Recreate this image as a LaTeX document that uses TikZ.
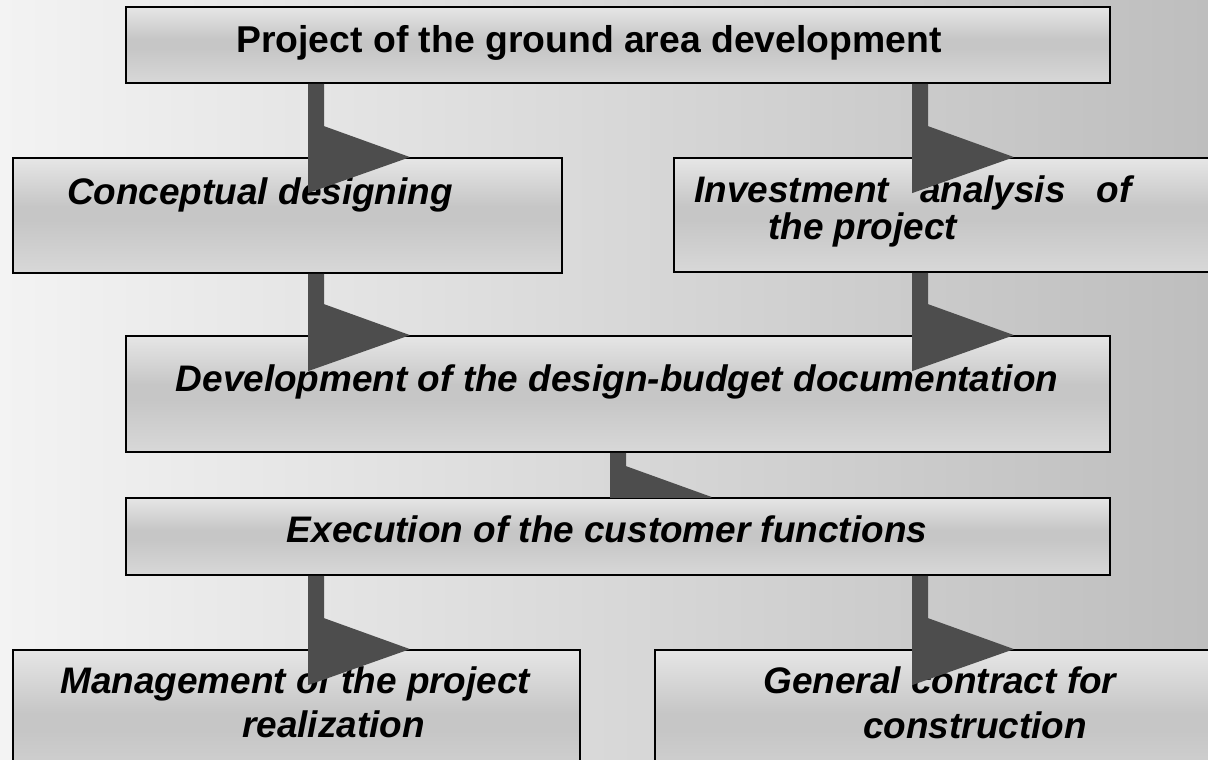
\documentclass[tikz,border=0pt]{standalone}
\usepackage{fontspec}
\setmainfont{Liberation Sans}
\usetikzlibrary{calc}

\definecolor{bgleft}{RGB}{243,243,243}
\definecolor{bgright}{RGB}{190,190,190}
\definecolor{boxtop}{RGB}{230,230,230}
\definecolor{boxmid}{RGB}{198,198,198}
\definecolor{boxbot}{RGB}{216,216,216}
\definecolor{flaggray}{RGB}{77,77,77}

\pgfdeclareverticalshading{boxshade}{100bp}{color(0bp)=(boxbot); color(25bp)=(boxbot); color(48bp)=(boxmid); color(54bp)=(boxmid); color(75bp)=(boxtop); color(100bp)=(boxtop)}

\def\px{0.75pt}

% bar with a flag head: #1 from, #2 to, #3 left x of the bar
\newcommand{\flagarrow}[3]{%
  \fill[flaghead] (#3,0 |- #1.south) -- ++(16,0)
    -- ($(#3,0 |- #2.north)+(16,-31)$) -- ($(#3,0 |- #2.north)+(102,0)$)
    -- ($(#3,0 |- #2.north)+(0,36)$) -- cycle;}

\tikzset{
  stage/.style={rectangle, draw=black, line width=1.3pt, shade, shading=boxshade, inner sep=0pt},
  stagetext/.style={font=\fontsize{27.7}{30}\selectfont\bfseries\itshape, inner sep=0pt},
  flaghead/.style={fill=flaggray}
}

\begin{document}
\begin{tikzpicture}[x=0.75pt, y=-0.75pt]
    \useasboundingbox (0,0) rectangle (1208,760);
    \shade[left color=bgleft, right color=bgright] (0,0) rectangle (1208,760);

    % boxes
    \node[stage, minimum width=984*\px, minimum height=76*\px] (ground) at (618,45) {};
    \node[stage, minimum width=549*\px, minimum height=115*\px] (concept) at (287.5,215.5) {};
    \node[stage, minimum width=566*\px, minimum height=114*\px] (invest) at (957,215) {};
    \node[stage, minimum width=984*\px, minimum height=116*\px] (budget) at (618,394) {};
    \node[stage, minimum width=984*\px, minimum height=77*\px] (customer) at (618,536.5) {};
    \node[stage, minimum width=567*\px, minimum height=150*\px] (manage) at (296.5,725) {};
    \node[stage, minimum width=585*\px, minimum height=150*\px] (contract) at (947.5,725) {};

    % texts
    \node[stagetext, font=\fontsize{28}{30}\selectfont\bfseries, anchor=base] (ground-t) at (589,52) {Project of the ground area development};
    \node[stagetext, anchor=base] (concept-t) at (260,204) {Conceptual designing};
    \node[stagetext, anchor=base west] (invest-t1) at (694,202) {Investment\ \ \ analysis\ \ \ of};
    \node[stagetext, anchor=base west] (invest-t2) at (768,239) {the project};
    \node[stagetext, anchor=base] (budget-t) at (617,391) {Development of the design-budget documentation};
    \node[stagetext, anchor=base] (customer-t) at (607,542) {Execution of the customer functions};
    \node[stagetext, anchor=base west] (manage-t1) at (60,693) {Management of the project};
    \node[stagetext, anchor=base west] (manage-t2) at (242,737) {realization};
    \node[stagetext, anchor=base west] (contract-t1) at (763,693) {General contract for};
    \node[stagetext, anchor=base west] (contract-t2) at (863,738) {construction};

    % arrows
    \flagarrow{ground}{concept}{308}
    \flagarrow{ground}{invest}{912}
    \flagarrow{concept}{budget}{308}
    \flagarrow{invest}{budget}{912}
    \begin{scope}
        \clip (budget.south west) rectangle (customer.north east);
        \flagarrow{budget}{customer}{610}
    \end{scope}
    \flagarrow{customer}{manage}{308}
    \flagarrow{customer}{contract}{912}

\end{tikzpicture}
\end{document}
